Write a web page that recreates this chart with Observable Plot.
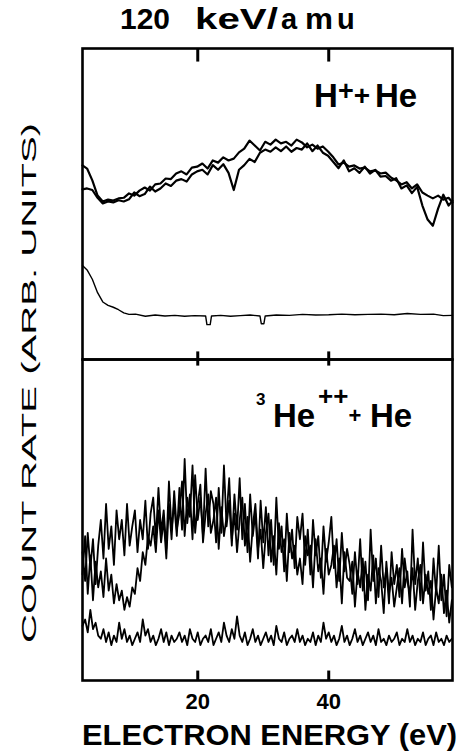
<!DOCTYPE html>
<html>
<head>
<meta charset="utf-8">
<script src="https://cdn.jsdelivr.net/npm/d3@7"></script>
<script src="https://cdn.jsdelivr.net/npm/@observablehq/plot@0.6"></script>
<style>
  html, body { margin: 0; padding: 0; background: #fff; }
  #wrap { position: relative; width: 464px; height: 752px; background: #fff; overflow: hidden; }
  #upper, #lower { position: absolute; left: 0; }
  #upper { top: 40px; }
  #lower { top: 355px; }
  #overlay { position: absolute; left: 0; top: 0; pointer-events: none; }
  #overlay text { font-family: "Liberation Sans", Arial, sans-serif; font-weight: bold; fill: #000; }
</style>
</head>
<body>
<div id="wrap">
  <svg id="overlay" width="464" height="752">
    <text y="29" font-size="29"><tspan x="120" textLength="50" lengthAdjust="spacingAndGlyphs">120</tspan><tspan x="195" textLength="83" lengthAdjust="spacingAndGlyphs">keV/</tspan><tspan x="281">a</tspan><tspan x="305" textLength="28" lengthAdjust="spacingAndGlyphs">m</tspan><tspan x="337">u</tspan></text>
    <text transform="translate(36,383) rotate(-90)" text-anchor="middle" font-size="21" style="font-weight:normal" textLength="520" lengthAdjust="spacingAndGlyphs">COUNT RATE (ARB. UNITS)</text>
    <text x="82" y="745" font-size="30" textLength="375" lengthAdjust="spacingAndGlyphs">ELECTRON ENERGY (eV)</text>
    <!-- H+ + He -->
    <text x="314" y="107" font-size="33">H</text>
    <text x="346" y="100" font-size="27" text-anchor="middle">+</text>
    <text x="362" y="105" font-size="28" text-anchor="middle">+</text>
    <text x="375" y="107" font-size="33">He</text>
    <!-- 3He++ + He -->
    <text x="256" y="405" font-size="17">3</text>
    <text x="273" y="427" font-size="33">He</text>
    <text x="318" y="405" font-size="26">++</text>
    <text x="355" y="423" font-size="22" text-anchor="middle">+</text>
    <text x="370" y="427" font-size="33">He</text>
  </svg>
  <div id="upper"></div>
  <div id="lower"></div>
</div>
<script>
// ---------- data ----------
const xTicks = [20, 40];
const xDomain = [2.4, 58.9];

// upper panel: H+ + He, two runs
const energyUpper = [2.4,3.1,3.9,4.7,5.5,6.3,7.1,7.9,8.7,9.5,10.3,11.1,11.9,12.7,13.5,14.3,15.1,15.9,16.7,17.5,18.3,19.1,19.9,20.7,21.5,22.3,23.1,23.9,24.7,25.5,26.3,27.1,27.9,28.7,29.5,30.3,31.1,31.9,32.7,33.5,34.3,35.1,35.9,36.7,37.5,38.3,39.1,39.9,40.7,41.5,42.3,43.1,43.9,44.7,45.5,46.3,47.1,47.9,48.7,49.5,50.3,51.1,51.9,52.7,53.5,54.3,55.1,55.9,56.7,57.5,58.3,58.9];
const hRunA = [62.4,61.4,57.6,52.7,50.8,51.4,51.1,51.8,52,53.4,52.7,54.3,55.3,54.3,56.3,56.6,58.2,58,59.8,60.5,59.5,61.7,62,63,61.4,64,63.3,65,64,64.6,66.6,67.8,70.4,68.8,67.2,70,69.1,70.7,69.5,70,68.8,70.7,69.8,68.2,69.1,67.8,68.5,66.9,65,62.7,63.3,62,62.4,61.4,61.7,60.5,60.8,59.8,60.1,58.5,57.6,56.3,57,55,56.3,53.7,52.7,51.8,52.7,51.4,52,50.5];
const hRunB = [54.7,55,54.5,52,50.2,50.8,50.5,51.2,50.8,51.5,53.7,52.5,53.2,55.6,54,55,56.6,55.8,57.5,58,57.2,59.5,60.5,61,59.5,62.5,61,62.8,60,54.5,61,62.5,64.5,63.5,66.5,67.5,66.8,68.2,67,68.5,66.8,68,67.5,69.5,67,68.8,66.5,65.5,63.5,61.5,64,60.5,61.5,60,62,59.8,61,58.8,59,57.5,58.3,55,56,53.5,55.5,49.5,45,43,48.5,53,49.5,51];
// upper panel background
const energyUpperBg = [2.4,3.1,3.9,4.7,5.5,6.3,7.1,7.9,8.7,9.5,10.5,12,13.5,15,16.5,18,19.5,21.2,21.4,21.9,22.1,23.5,25,26.5,28,29.5,29.7,30.1,30.3,32,34,36,38,40,42,44,46,48,50,52,54,56,57.5,58.9];
const hBackground = [30.2,28.8,25.8,21.5,18.5,17.4,16.8,16,15,14.5,14.6,13.9,14.3,14,14.2,13.9,14.1,14,11.2,11.2,14,14.2,13.9,14.1,14.3,14,11.5,11.5,14,14.3,14.2,14.5,14.3,14.4,14.6,14.4,14.5,14.6,14.4,14.8,14.5,14.6,14.1,14.2];

// lower panel: 3He++ + He
const energyLower = [2.4,2.8,3.2,3.6,4,4.4,4.8,5.2,5.6,6,6.4,6.8,7.2,7.6,8,8.4,8.8,9.2,9.6,10,10.4,10.8,11.2,11.6,12,12.4,12.8,13.2,13.6,14,14.4,14.8,15.2,15.6,16,16.4,16.8,17.2,17.6,18,18.4,18.8,19.2,19.6,20,20.4,20.8,21.2,21.6,22,22.4,22.8,23.2,23.6,24,24.4,24.8,25.2,25.6,26,26.4,26.8,27.2,27.6,28,28.4,28.8,29.2,29.6,30,30.4,30.8,31.2,31.6,32,32.4,32.8,33.2,33.6,34,34.4,34.8,35.2,35.6,36,36.4,36.8,37.2,37.6,38,38.4,38.8,39.2,39.6,40,40.4,40.8,41.2,41.6,42,42.4,42.8,43.2,43.6,44,44.4,44.8,45.2,45.6,46,46.4,46.8,47.2,47.6,48,48.4,48.8,49.2,49.6,50,50.4,50.8,51.2,51.6,52,52.4,52.8,53.2,53.6,54,54.4,54.8,55.2,55.6,56,56.4,56.8,57.2,57.6,58,58.4,58.8];
const heRunA = [40,31,46,35,44,30,42, 50,38,55,41,48,36,53,44, 50,39,55,42,48, 53,40,50,44,56,41,52, 57,44,60,46,53,41,62,47,55,45, 60,47,69,49,58,44,64,50,57,45,66,48,59, 55,43,60,46,67,48,56,42,58,47, 63,44,55,40,58,45,52,38,56,43, 54,39,50,36,57,41,48,34,52,40,47,35,51, 44,52,36,47,33,50,39,45,32,48,37,43, 51,35,44,31,46,34,41, 36,27,40,30,44,28,37,25,47,31,38,26,42,29,35,24,40,30, 36,26,41,29,34,23,47,30,38,25,43,28, 34,22,38,27,42,25,33,20,36,29];
const heRunB = [33,45,27,39,25,37,29, 34,26,38,28,33,24,30,25, 28,22,26,23,29, 27,35,31,40,36,45,42, 48,40,53,43,50,38,55,44,59,47, 52,62,45,57,51,67,46,55,61,43,52,58,46, 50,57,41,54,45,51,63,44,52,40, 50,57,42,51,37,48,55,41,47,35, 46,52,37,45,33,49,40,44,31,46,38,42,33, 38,30,45,39,42,29,44,34,38,27,41,33, 36,42,29,38,24,40,32, 31,37,23,34,29,38,22,33,28,39,24,35,31,21,37,27,32,23, 29,35,24,38,31,27,35,22,31,36,24,33, 27,31,19,29,24,33,21,28,18,25];
const heBackground = [17,19,15,22,16,18,14, 13,16,12,15,11,14,12,18, 13,16,12,14,11, 13,15,12,19,14,16,12, 14,11,13,16,12,15,11,14,12,13, 15,12,14,11,16,13,12,15,11,13,14,12,16, 11,13,15,12,18,14,12,16,13,20, 14,12,15,11,13,16,12,14,11,13, 15,12,14,11,17,13,12,15,11,13,14,12,16, 12,14,11,13,12,15,11,14,12,18,13,15, 12,14,11,13,17,12,14, 11,13,16,12,14,11,13,15,12,14,11,16,12,13,11,14,12,13, 15,11,13,12,16,12,14,11,13,12,15,11, 13,14,11,15,12,13,11,14,12,13];

// ---------- drawing ----------
const font = { fontFamily: "Liberation Sans, Arial, sans-serif", background: "transparent", overflow: "visible" };
const tickStyle = { x1: d => d, x2: d => d, stroke: "#000", strokeWidth: 3 };

const upper = Plot.plot({
  width: 464, height: 319,
  marginTop: 8, marginBottom: 0, marginLeft: 82, marginRight: 12,
  style: font,
  x: { domain: xDomain, axis: null },
  y: { domain: [0, 100], axis: null },
  marks: [
    Plot.line(hBackground, { x: (d, i) => energyUpperBg[i], y: d => d, stroke: "#000", strokeWidth: 1.4 }),
    Plot.line(hRunA, { x: (d, i) => energyUpper[i], y: d => d, stroke: "#000", strokeWidth: 2.2, strokeLinejoin: "round" }),
    Plot.line(hRunB, { x: (d, i) => energyUpper[i], y: d => d, stroke: "#000", strokeWidth: 2.2, strokeLinejoin: "round" }),
    Plot.frame({ stroke: "#000", strokeWidth: 2.6 }),
    // inward ticks: top edge and divider
    Plot.link(xTicks, { ...tickStyle, y1: () => 100, y2: () => 95.8 }),
    Plot.link(xTicks, { ...tickStyle, y1: () => 0, y2: () => 2.6 })
  ]
});
document.getElementById("upper").append(upper);

const lower = Plot.plot({
  width: 464, height: 365,
  marginTop: 4, marginBottom: 40, marginLeft: 82, marginRight: 12,
  style: { ...font, fontSize: "22px", fontWeight: "bold" },
  x: { domain: xDomain, axis: null },
  y: { domain: [0, 100], axis: null },
  marks: [
    Plot.line(heBackground, { x: (d, i) => energyLower[i], y: d => d, stroke: "#000", strokeWidth: 1.8 }),
    Plot.line(heRunA, { x: (d, i) => energyLower[i], y: d => d, stroke: "#000", strokeWidth: 1.8 }),
    Plot.line(heRunB, { x: (d, i) => energyLower[i], y: d => d, stroke: "#000", strokeWidth: 1.8 }),
    Plot.frame({ stroke: "#000", strokeWidth: 2.6 }),
    // inward ticks: divider and bottom edge
    Plot.link(xTicks, { ...tickStyle, y1: () => 100, y2: () => 98.1 }),
    Plot.link(xTicks, { ...tickStyle, y1: () => 0, y2: () => 3.1 }),
    Plot.axisX({ anchor: "bottom", ticks: xTicks, tickSize: 0, tickPadding: 13, label: null, fontSize: 22, fontWeight: "bold" })
  ]
});
document.getElementById("lower").append(lower);
</script>
</body>
</html>
